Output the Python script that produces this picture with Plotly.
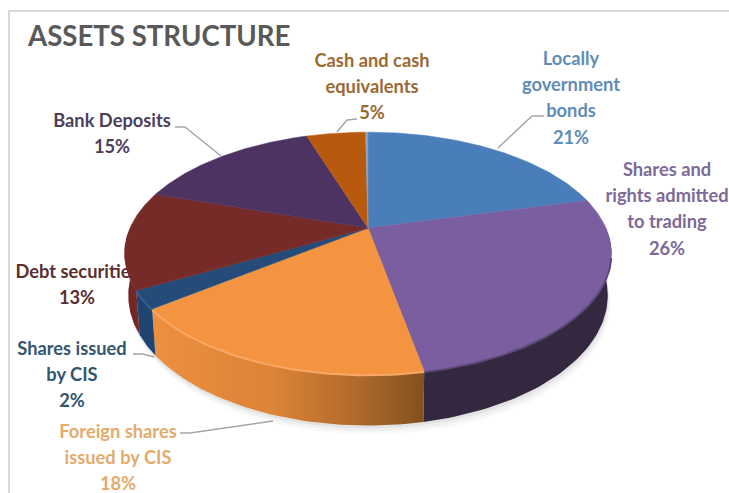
import numpy as np
import plotly.graph_objects as go

# ---- data ----
categories = ["Locally government bonds", "Shares and rights admitted to trading",
              "Foreign shares issued by CIS", "Shares issued by CIS",
              "Debt securities", "Bank Deposits", "Cash and cash equivalents", "Other"]
values = [21.0, 26.0, 17.5, 2.45, 13.05, 15.0, 4.8, 0.2]
title_text = "ASSETS STRUCTURE"
label_lines = [
    ["Locally", "government", "bonds", "21%"],
    ["Shares and", "rights admitted", "to trading", "26%"],
    ["Foreign shares", "issued by CIS", "18%"],
    ["Shares issued", "by CIS", "2%"],
    ["Debt securities", "13%"],
    ["Bank Deposits", "15%"],
    ["Cash and cash", "equivalents", "5%"],
]

# ---- styling / layout (pixel-like axis units) ----
top_colors = ["#4A7EBB", "#7B5E9F", "#F49441", "#254C78", "#772B28", "#4D3362", "#B85A0E", "#8FA3B5"]
wall_scales = [
    [[0, "#2A4F7A"], [1, "#2A4F7A"]],
    [[0, "#33283F"], [1, "#33283F"]],
    [[0, "#EE8F40"], [0.45, "#DB8336"], [0.75, "#B06A2B"], [1, "#83501F"]],
    [[0, "#1E4470"], [1, "#1E4470"]],
    [[0, "#6C2320"], [1, "#772A27"]],
    [[0, "#3A2650"], [1, "#3A2650"]],
    [[0, "#8A450C"], [1, "#8A450C"]],
    [[0, "#6A7A88"], [1, "#6A7A88"]],
]
rim_colors = [None, "#5E4A78", "#F8A866", "#34608F", None, None, None, None]
label_colors = ["#5F8DB5", "#7D6A96", "#E3AB6C", "#33566F", "#5A2E30", "#4C3F5C", "#9A6A33"]
label_x = [571, 667, 118, 72, 77, 112, 372]
label_y = [60, 171, 433, 350, 273, 122, 62]
line_step = 26.4
leaders = [
    ([498, 532, 544], [148, 116, 116]),
    ([337, 347, 357], [132, 120, 119]),
    ([221, 185, 175], [156, 127, 127]),
    ([154, 143, 133], [357, 354, 354]),
    ([273, 190, 180], [421, 433, 433]),
]
CX, CY, R, H, K, DEPTH = 368.0, 228.0, 238.0, 116.0, 0.21, 40.0


def project(theta, lowered=False):
    u, v = np.sin(theta), np.cos(theta)
    w = 1 + K * v
    x, y = CX + R * u / w, CY - H * v / w
    if lowered:
        x = CX + (x - CX) * 0.985
        y = y + DEPTH / w
    return x, y


fractions = np.array(values) / sum(values)
edges = np.concatenate([[0], np.cumsum(fractions)]) * 2 * np.pi

fig = go.Figure()

# labels sit behind the pie, as in the reference (Debt securities is cut off)
for lines, color, xc, y0 in zip(label_lines, label_colors, label_x, label_y):
    fig.add_trace(go.Scatter(
        x=[xc] * len(lines), y=[y0 + i * line_step for i in range(len(lines))],
        text=lines, mode="text", textposition="middle center",
        textfont=dict(family="Lato", size=18.3, color=color, weight="bold"),
        hoverinfo="skip", cliponaxis=False))

for lx, ly in leaders:
    fig.add_trace(go.Scatter(x=lx, y=ly, mode="lines",
                             line=dict(color="#A6A6A6", width=1.5), hoverinfo="skip"))

# soft shadow below the disc
t_all = np.linspace(np.radians(95), np.radians(265), 120)
for off, alpha in [(9, 0.025), (6, 0.035), (3, 0.05)]:
    xs, ys = project(t_all, lowered=True)
    xt, yt = project(t_all)
    fig.add_trace(go.Scatter(
        x=np.concatenate([xt, (xs + 0.3 * off)[::-1]]),
        y=np.concatenate([yt, (ys + off)[::-1]]),
        mode="lines", fill="toself", line=dict(width=0),
        fillcolor=f"rgba(0,0,0,{alpha})", hoverinfo="skip"))

# side walls (front half only)
lo, hi = np.radians(90), np.radians(270)
for i in range(len(values)):
    a, b = max(edges[i], lo), min(edges[i + 1], hi)
    if b <= a:
        continue
    t = np.linspace(a, b, 60)
    xt, yt = project(t)
    xb, yb = project(t, lowered=True)
    xp = np.concatenate([xt, xb[::-1], xt[:1]])
    yp = np.concatenate([yt, yb[::-1], yt[:1]])
    fig.add_trace(go.Scatter(
        x=xp, y=yp, mode="lines", fill="toself", line=dict(width=0),
        fillgradient=dict(type="horizontal", colorscale=wall_scales[i],
                          start=float(xp.min()), stop=float(xp.max())),
        hoverinfo="skip"))

# top face
for i, name in enumerate(categories):
    t = np.linspace(edges[i], edges[i + 1], 90)
    xt, yt = project(t)
    fig.add_trace(go.Scatter(
        x=np.concatenate([[CX], xt, [CX]]), y=np.concatenate([[CY], yt, [CY]]),
        mode="lines", fill="toself", fillcolor=top_colors[i],
        line=dict(color=top_colors[i], width=0.5), name=name, hoverinfo="name"))

# soft bevel where the top face meets the wall (only on the visible front rim)
rim_lo, rim_hi = np.radians(104), np.radians(256)
for i, rim in enumerate(rim_colors):
    a, b = max(edges[i], rim_lo), min(edges[i + 1], rim_hi)
    if rim is None or b <= a:
        continue
    t = np.linspace(a, b, 60)
    xt, yt = project(t)
    fig.add_trace(go.Scatter(x=xt, y=yt + 0.5, mode="lines",
                             line=dict(color=rim, width=2), hoverinfo="skip"))

# chart frame: top and left only
fig.add_trace(go.Scatter(x=[9, 9, 729], y=[493, 11, 11], mode="lines",
                         line=dict(color="#D9D9D9", width=2), hoverinfo="skip"))

fig.add_annotation(x=25, y=35, text=f"<b>{title_text}</b>", showarrow=False, xanchor="left",
                   yanchor="middle", font=dict(family="Lato", size=27.6, color="#595959"))

fig.update_layout(
    width=729, height=493, margin=dict(l=0, r=0, t=0, b=0), showlegend=False,
    paper_bgcolor="white", plot_bgcolor="white",
    xaxis=dict(range=[0, 729], visible=False, fixedrange=True),
    yaxis=dict(range=[493, 0], visible=False, fixedrange=True),
)
fig.write_html("out.html", config={"displayModeBar": False},
               post_script="document.body.style.margin='0';document.body.style.overflow='hidden';")
